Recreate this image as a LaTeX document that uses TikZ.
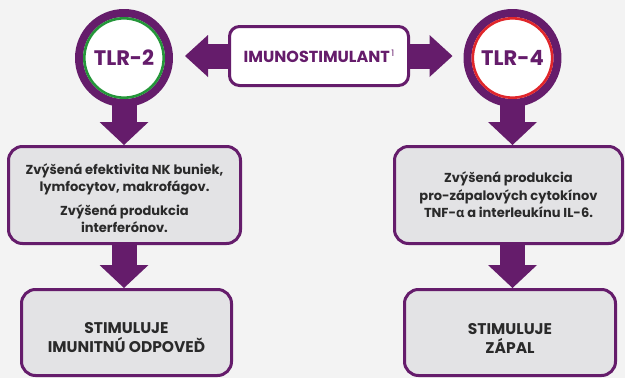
\documentclass[tikz,border=0pt]{standalone}
\usepackage{fontspec}
\setmainfont{Poppins}
\newfontfamily\greekfont{Open Sans}
\usetikzlibrary{arrows.meta,calc,positioning}

\definecolor{imupurple}{HTML}{651C6B}
\definecolor{boxgray}{HTML}{E3E3E5}
\definecolor{bggray}{HTML}{F3F3F3}
\definecolor{ringgreen}{HTML}{25963A}
\definecolor{ringred}{HTML}{E0262B}
\definecolor{txtgray}{HTML}{2A2A2A}

\pgfdeclarelayer{background}
\pgfsetlayers{background,main}

\begin{document}
\begin{tikzpicture}[x=1pt, y=-1pt, line join=round,
		receptor/.style={circle, draw=imupurple, line width=8pt, fill=white,
			minimum size=90pt, inner sep=0pt, text=imupurple,
			font=\fontsize{21}{21}\selectfont\bfseries},
		ring/.style={line width=2.6pt},
		infobox/.style={draw=imupurple, line width=3pt, rounded corners=14pt,
			fill=boxgray, text=txtgray, align=center, inner sep=0pt,
			font=\fontsize{13}{17.5}\selectfont\bfseries},
		fatarrow/.style={draw=imupurple, line width=25pt,
			-{Triangle[width=#1, length=23pt, line width=0pt]}},
		fatarrow/.default=49pt]
	
	% page and background
	\begin{pgfonlayer}{background}
		\fill[bggray] (0,0) rectangle (625,378);
	\end{pgfonlayer}
	\useasboundingbox (0,0) rectangle (625,378);
	
	% receptors
	\node[receptor] (tlr2) at (124,58) {TLR-2};
	\draw[ring, ringgreen] (tlr2.center) circle[radius=39.7pt];
	\node[receptor] (tlr4) at (512.5,58) {TLR-4};
	\draw[ring, ringred] (tlr4.center) circle[radius=39.7pt];
	
	% stimulant in the middle
	\node[draw=imupurple, line width=3pt, rounded corners=10pt, fill=white,
		minimum width=179pt, minimum height=59pt, inner sep=0pt, text=imupurple,
		font=\fontsize{16}{16}\selectfont\bfseries] (imuno) at (319,56)
		{IMUNOSTIMULANT\raisebox{6pt}{\mdseries\fontsize{9}{9}\selectfont\,1}};
	
	% effects
	\node[infobox, minimum width=232pt, minimum height=97pt] (eff) at (124.5,195)
		{\rule{0pt}{17pt}Zvýšená efektivita NK buniek,\\lymfocytov, makrofágov.\\[6pt]%
		 Zvýšená produkcia\\interferónov.};
	\node[infobox, minimum width=228pt, minimum height=97pt] (prod) at (508.5,195)
		{Zvýšená produkcia\\pro-zápalových cytokínov\\TNF-{\greekfont α} a interleukínu IL-6.};
	
	% results
	\node[infobox, minimum width=210pt, minimum height=86pt,
		font=\fontsize{15.5}{19}\selectfont\bfseries] (stim2) at (126.5,332.5)
		{\rule{0pt}{22pt}STIMULUJE\\IMUNITNÚ ODPOVEĎ};
	\node[infobox, minimum width=211pt, minimum height=86pt,
		font=\fontsize{15.5}{19}\selectfont\bfseries] (stim4) at (510,332.5)
		{\rule{0pt}{22pt}STIMULUJE\\ZÁPAL};
	
	% block arrows
	\begin{pgfonlayer}{background}
		\draw[fatarrow] (tlr2.center) -- (tlr2.center |- eff.north);
		\draw[fatarrow] (tlr4.center) -- (tlr4.center |- prod.north);
	\end{pgfonlayer}
	\draw[fatarrow=42pt, shorten >=12pt] (imuno.west) -- (imuno.west -| tlr2.east);
	\draw[fatarrow=42pt, shorten >=11pt] (imuno.east) -- (imuno.east -| tlr4.west);
	\draw[fatarrow] (eff.south -| tlr2) -- (stim2.north -| tlr2);
	\draw[fatarrow] (prod.south -| tlr4) -- (stim4.north -| tlr4);
	
\end{tikzpicture}
\end{document}
